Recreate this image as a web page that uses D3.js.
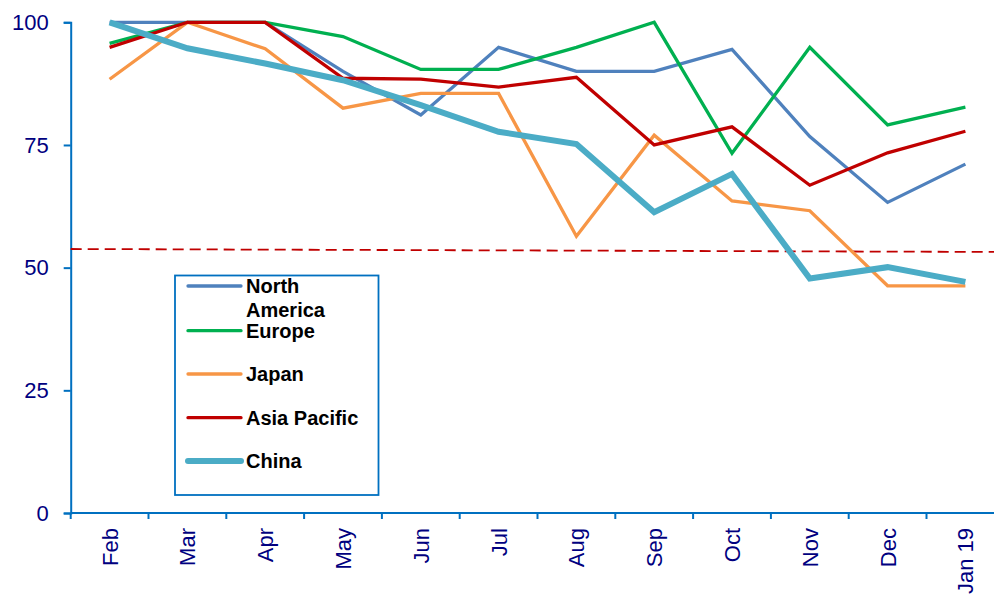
<!DOCTYPE html>
<html>
<head>
<meta charset="utf-8">
<script src="https://cdn.jsdelivr.net/npm/d3@7"></script>
<style>
  body { margin: 0; background: #fff; }
  svg { display: block; font-family: "Liberation Sans", Arial, sans-serif; }
</style>
</head>
<body>
<div id="chart"></div>
<script>
// months along the bottom
var months = ["Feb", "Mar", "Apr", "May", "Jun", "Jul", "Aug", "Sep", "Oct", "Nov", "Dec", "Jan 19"];
var yTicks = [0, 25, 50, 75, 100];

// one array per region
var northAmerica = [100, 100, 100, 90, 81.1, 94.9, 90, 90, 94.5, 76.7, 63.3, 71.1];
var europe = [95.7, 100, 100, 97.1, 90.4, 90.4, 94.9, 100, 73.3, 94.9, 79.1, 82.7];
var japan = [88.4, 100, 94.6, 82.5, 85.5, 85.5, 56.4, 77, 63.6, 61.6, 46.3, 46.3];
var asiaPacific = [94.9, 100, 100, 88.6, 88.4, 86.8, 88.8, 75, 78.7, 66.8, 73.4, 77.8];
var china = [100, 94.7, 91.6, 88.2, 83.1, 77.7, 75.2, 61.3, 69.1, 47.8, 50.1, 47.1];

// dashed reference line, value at left and right end
var refLine = [53.8, 53.2];

var seriesNames = ["North America", "Europe", "Japan", "Asia Pacific", "China"];
var seriesColors = ["#4F81BD", "#00B050", "#F79646", "#C00000", "#4BACC6"];
var seriesWidths = [3.3, 3.3, 3.3, 3.3, 6];
var seriesData = [northAmerica, europe, japan, asiaPacific, china];

var width = 994, height = 595;
var plotLeft = 70.7, plotTop = 22.3, plotBottom = 513;
var axisColor = "#0070C0";
var labelColor = "#000080";

var svg = d3.select("#chart")
    .append("svg")
    .attr("width", width)
    .attr("height", height);

var x = d3.scaleBand()
    .domain(months)
    .range([plotLeft, plotLeft + 12 * 77.8]);

var y = d3.scaleLinear()
    .domain([0, 100])
    .range([plotBottom, plotTop]);

// y axis
var yAxis = svg.append("g")
    .attr("transform", "translate(" + plotLeft + ",0)")
    .call(d3.axisLeft(y).tickValues(yTicks).tickSize(7).tickPadding(15));
yAxis.select(".domain").attr("stroke", axisColor).attr("stroke-width", 2);
yAxis.selectAll(".tick line").attr("stroke", axisColor).attr("stroke-width", 2);
yAxis.selectAll(".tick text")
    .attr("fill", labelColor)
    .style("font-size", "22px")
    .style("font-family", "'Liberation Sans', Arial, sans-serif");

// x axis, ticks sit on the band edges
var xAxis = svg.append("g")
    .attr("transform", "translate(0," + plotBottom + ")");
xAxis.append("line")
    .attr("x1", plotLeft).attr("x2", width)
    .attr("y1", 0).attr("y2", 0)
    .attr("stroke", axisColor)
    .attr("stroke-width", 2);
xAxis.selectAll(".edge")
    .data(months)
    .enter().append("line")
    .attr("class", "edge")
    .attr("x1", function(d){ return x(d); })
    .attr("x2", function(d){ return x(d); })
    .attr("y1", 0).attr("y2", 6)
    .attr("stroke", axisColor)
    .attr("stroke-width", 2);
xAxis.selectAll("text")
    .data(months)
    .enter().append("text")
    .attr("transform", function(d){
        return "translate(" + (x(d) + x.bandwidth() / 2 + 8) + ",15) rotate(-90)";
    })
    .attr("text-anchor", "end")
    .attr("fill", labelColor)
    .style("font-size", "22px")
    .text(function(d){ return d; });

// dashed reference line
svg.append("line")
    .attr("x1", plotLeft)
    .attr("x2", width)
    .attr("y1", y(refLine[0]))
    .attr("y2", y(refLine[1]))
    .attr("stroke", "#C00000")
    .attr("stroke-width", 1.8)
    .attr("stroke-dasharray", "11,6");

var line = d3.line()
    .x(function(d, i){ return x(months[i]) + x.bandwidth() / 2; })
    .y(function(d){ return y(d); });

svg.selectAll(".series")
    .data(seriesData)
    .enter().append("path")
    .attr("class", "series")
    .attr("d", line)
    .attr("fill", "none")
    .attr("stroke", function(d, i){ return seriesColors[i]; })
    .attr("stroke-width", function(d, i){ return seriesWidths[i]; })
    .attr("stroke-linejoin", "miter");

// legend
var legend = svg.append("g");
legend.append("rect")
    .attr("x", 175).attr("y", 275.5)
    .attr("width", 203.5).attr("height", 219.5)
    .attr("fill", "#fff")
    .attr("stroke", axisColor)
    .attr("stroke-width", 1.8);

var rowY = [286, 330.7, 374, 417.7, 461];
var items = legend.selectAll(".item")
    .data(seriesNames)
    .enter().append("g")
    .attr("class", "item")
    .attr("transform", function(d, i){ return "translate(0," + rowY[i] + ")"; });
items.append("line")
    .attr("x1", 188).attr("x2", 241)
    .attr("stroke", function(d, i){ return seriesColors[i]; })
    .attr("stroke-width", function(d, i){ return seriesWidths[i]; })
    .attr("stroke-linecap", "round");
items.append("text")
    .attr("x", 246)
    .attr("y", 7)
    .style("font-size", "20px")
    .style("font-weight", "bold")
    .attr("fill", "#000")
    .each(function(d){
        var words = d === "North America" ? ["North", "America"] : [d];
        var t = d3.select(this);
        words.forEach(function(w, k){
            t.append("tspan").attr("x", 246).attr("dy", k === 0 ? 0 : 24).text(w);
        });
    });
</script>
</body>
</html>
